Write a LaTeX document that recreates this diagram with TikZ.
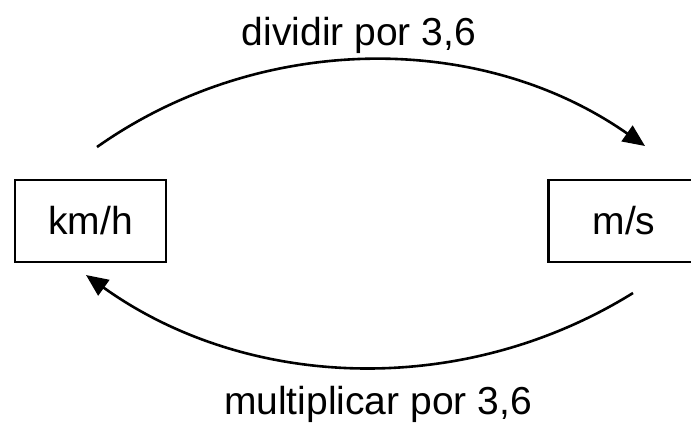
\documentclass[tikz,border=0pt]{standalone}
\usepackage{fontspec}
\setmainfont{Liberation Sans}
\usetikzlibrary{arrows.meta}
\tikzset{unitbox/.style={draw, line width=1.4pt, minimum width=75.5pt, minimum height=41pt, inner sep=0pt, font=\fontsize{19.5}{23}\selectfont}}

\begin{document}
\begin{tikzpicture} [x=.5pt, y=-.5pt,
  conv/.style={line width=1.3pt, -{Triangle[length=11pt,width=9.5pt]}},
  lbl/.style={anchor=base, font=\fontsize{19.5}{23}\selectfont}]
\useasboundingbox (0,0) rectangle (691,424);
\clip (0,0) rectangle (691,424);
\node[unitbox] (kmh) at (90.5,221) {km/h};
\node[unitbox] (ms) at (624,221) {m/s};
\coordinate (kmh top) at (97,147);
\coordinate (ms top) at (645,146);
\coordinate (ms bot) at (633,293);
\coordinate (kmh bot) at (86,275);
\draw[conv] (kmh top) .. controls (260,32) and (481,31) .. (ms top);
\draw[conv] (ms bot) .. controls (464,398) and (248,391) .. (kmh bot);
\node[lbl] (div) at (359,45) {dividir por 3,6};
\node[lbl] (mult) at (378,414) {multiplicar por 3,6};
\end{tikzpicture}
\end{document}
